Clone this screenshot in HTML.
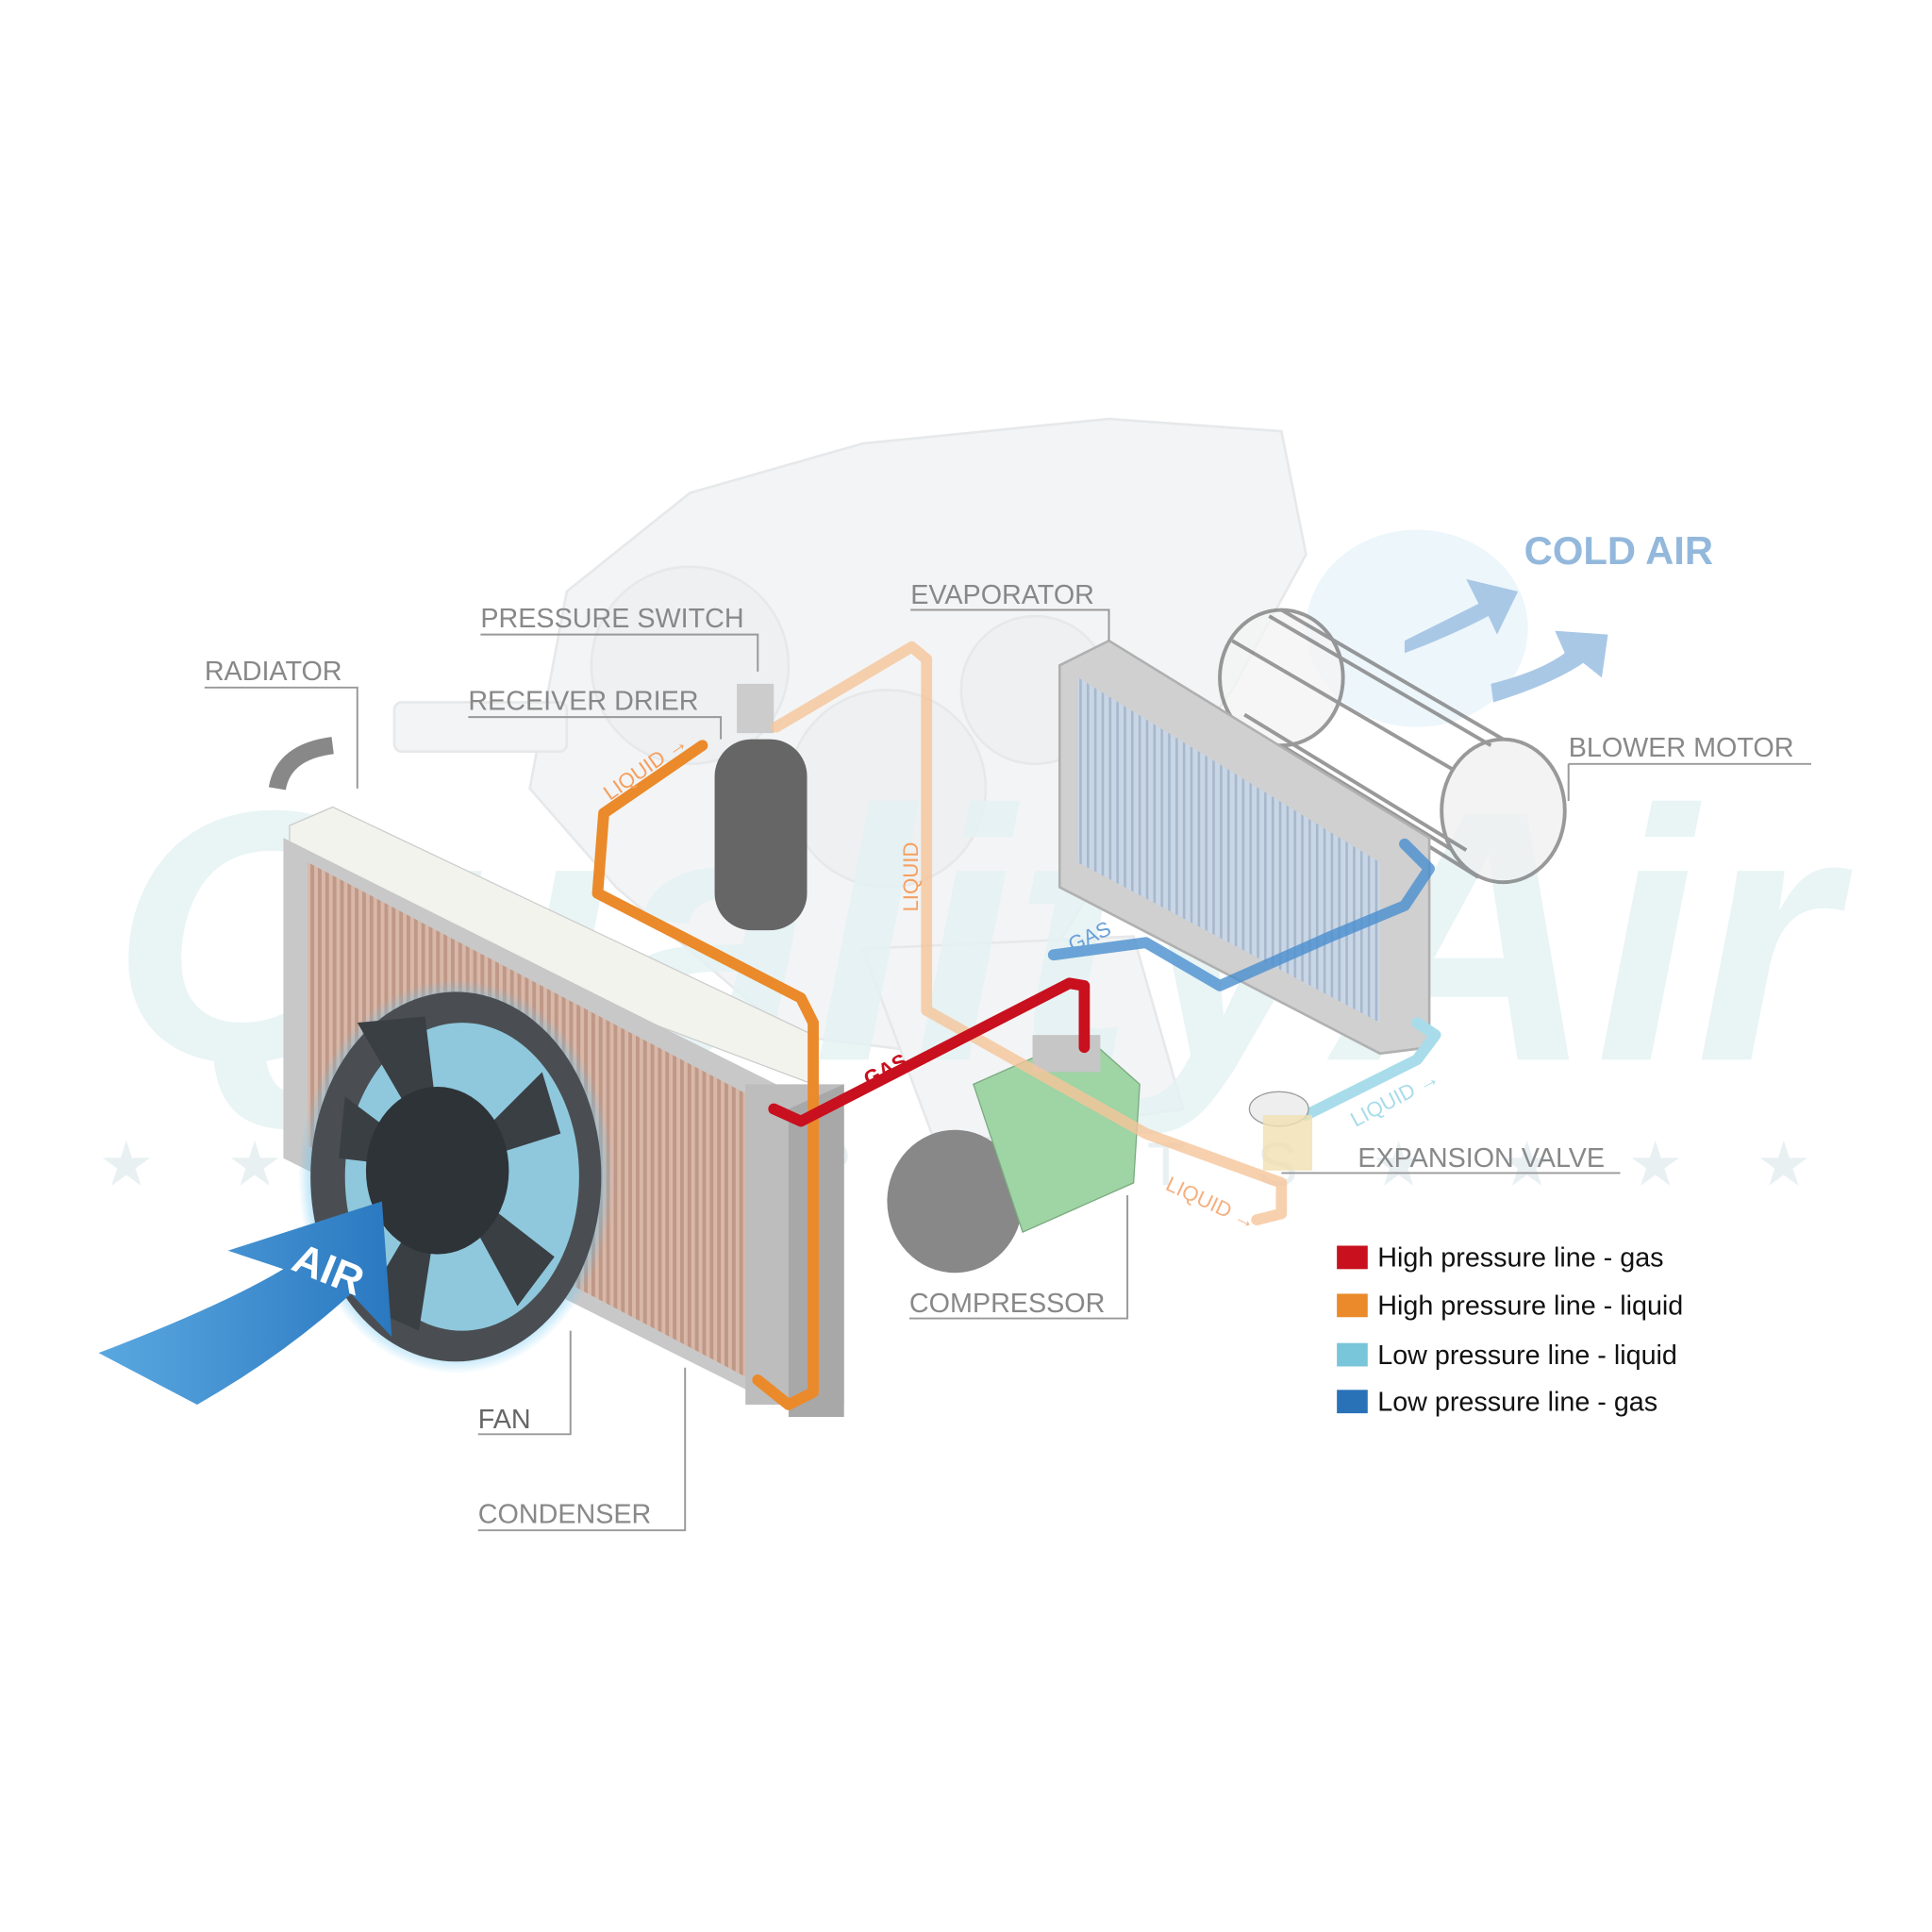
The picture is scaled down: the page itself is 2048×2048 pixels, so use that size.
<!DOCTYPE html>
<html><head><meta charset="utf-8"><style>
html,body{margin:0;padding:0;background:#fff;width:2048px;height:2048px;overflow:hidden}
svg{display:block}
text{font-family:"Liberation Sans",sans-serif}
</style></head><body>
<svg width="2048" height="2048" viewBox="0 0 1568 1568" xmlns="http://www.w3.org/2000/svg">
<defs>
<radialGradient id="glow" cx="0.5" cy="0.5" r="0.5"><stop offset="0.82" stop-color="#6cc6f0"/><stop offset="1" stop-color="#6cc6f0" stop-opacity="0"/></radialGradient>
<linearGradient id="air" x1="0" x2="1"><stop offset="0" stop-color="#5aa8e0"/><stop offset="1" stop-color="#2a78c0"/></linearGradient>
<pattern id="fins" width="6" height="6" patternUnits="userSpaceOnUse"><rect width="6" height="6" fill="#d8b8a8"/><rect width="3" height="6" fill="#c09888"/></pattern>
<pattern id="evf" width="6" height="6" patternUnits="userSpaceOnUse"><rect width="6" height="6" fill="#c8d6e6"/><rect width="2" height="6" fill="#a8b8cc"/></pattern>
</defs>
<!-- engine faint -->
<g fill="#f3f4f5" stroke="#e6e8ea" stroke-width="2">
<path d="M460 480 L560 400 L700 360 L900 340 L1040 350 L1060 450 L1000 560 L900 700 L800 860 L640 840 L500 720 L430 640 Z"/>
<circle cx="560" cy="540" r="80" fill="#eef0f1"/>
<circle cx="720" cy="640" r="80" fill="#eef0f1"/>
<circle cx="840" cy="560" r="60" fill="#eef0f1"/>
<rect x="320" y="570" width="140" height="40" rx="6"/>
<path d="M700 770 L920 760 L960 900 L760 930 Z"/>
</g>
<!-- watermark -->
<text x="90" y="860" font-size="290" font-weight="bold" font-style="italic" fill="#e4f2f3" opacity="0.8" textLength="1400" lengthAdjust="spacingAndGlyphs">QualityAir</text>
<text x="80" y="962" font-size="50" fill="#e8f0f2" textLength="1390" lengthAdjust="spacing">★ ★   A U T O   P A R T S   ★ ★ ★ ★</text>
<!-- cold air -->
<ellipse cx="1150" cy="510" rx="90" ry="80" fill="#e4f2fa" opacity="0.7"/>
<path d="M1140 520 Q1180 500 1200 490 L1190 470 L1232 480 L1215 515 L1208 500 Q1180 515 1140 530Z" fill="#a9c8e6"/>
<path d="M1210 555 Q1250 545 1270 530 L1262 512 L1305 515 L1300 550 L1285 538 Q1260 555 1212 570Z" fill="#a9c8e6"/>
<text x="1237" y="458" font-size="32" font-weight="bold" fill="#93b8dc">COLD AIR</text>
<!-- blower -->
<g stroke="#777" stroke-width="3" fill="none" opacity="0.75">
<ellipse cx="1040" cy="550" rx="50" ry="55" fill="#f4f4f4"/>
<path d="M1040 495 L1220 600 M1040 605 L1220 715"/>
<ellipse cx="1220" cy="658" rx="50" ry="58" fill="#f0f0f0"/>
<path d="M1000 520 L1180 625 M1010 580 L1190 690 M1030 500 L1210 605 M1020 600 L1200 712"/>
</g>
<!-- evaporator -->
<path d="M860 540 L900 520 L1160 680 L1160 850 L1120 855 L860 720 Z" fill="#d0d0d0" stroke="#b0b0b0" stroke-width="2"/>
<path d="M875 550 L1120 700 L1120 830 L875 700 Z" fill="url(#evf)"/>
<!-- radiator/condenser -->
<path d="M235 670 L270 655 L660 840 L660 880 L235 720Z" fill="#f3f3ee" stroke="#ccc"/>
<path d="M230 680 L630 880 L630 1140 L230 940 Z" fill="#c8c8c8"/>
<path d="M250 700 L610 890 L610 1120 L250 930Z" fill="url(#fins)"/>
<rect x="605" y="880" width="80" height="260" fill="#bdbdbd"/>
<path d="M640 900 L685 880 L685 1150 L640 1150Z" fill="#a8a8a8"/>
<path d="M225 640 Q230 610 270 605" stroke="#888" stroke-width="14" fill="none"/>
<!-- fan -->
<ellipse cx="370" cy="955" rx="128" ry="160" fill="url(#glow)"/>
<ellipse cx="370" cy="955" rx="118" ry="150" fill="#4a4e52"/>
<ellipse cx="375" cy="955" rx="95" ry="125" fill="#8fc8dc"/>
<g fill="#3a3f44"><path d="M360 950 L290 830 L345 825Z"/><path d="M360 950 L440 870 L455 920Z"/><path d="M360 950 L450 1020 L420 1060Z"/><path d="M360 950 L340 1080 L295 1060Z"/><path d="M360 950 L275 940 L280 890Z"/></g>
<ellipse cx="355" cy="950" rx="58" ry="68" fill="#2e3338"/>
<!-- AIR arrow -->
<path d="M80 1098 Q180 1060 230 1030 L185 1015 L310 975 L318 1085 L285 1050 Q230 1100 160 1140 Z" fill="url(#air)"/>
<text x="235" y="1030" font-size="34" font-weight="bold" fill="#fff" transform="rotate(22 235 1030)">AIR</text>
<!-- drier -->
<rect x="580" y="600" width="75" height="155" rx="30" fill="#666"/>
<rect x="598" y="555" width="30" height="40" fill="#ccc"/>
<!-- compressor -->
<ellipse cx="775" cy="975" rx="55" ry="58" fill="#888"/>
<path d="M790 880 L880 840 L925 880 L920 960 L830 1000 Z" fill="#9fd4a5" stroke="#7aaa80"/>
<rect x="838" y="840" width="55" height="30" fill="#c6c6c6"/>
<!-- pipes -->
<g fill="none" stroke-linejoin="round" stroke-linecap="round">
<path d="M570 605 L490 660 L485 725 L650 810 L660 830 L660 1130 L640 1140 L615 1120" stroke="#ea8a2a" stroke-width="9"/>
<path d="M630 590 L740 525 L752 535 L752 820 L930 920 L1040 960 L1040 985 L1020 990" stroke="#f5c49a" stroke-width="9" opacity="0.8"/>
<path d="M880 850 L880 800 L868 798 L650 910 L628 900" stroke="#c8101e" stroke-width="9"/>
<path d="M855 775 L930 765 L990 800 L1080 760 L1140 735 L1160 705 L1140 685" stroke="#4a8fd0" stroke-width="9" opacity="0.8"/>
<path d="M1060 905 L1150 860 L1165 840 L1150 830" stroke="#a8dcea" stroke-width="9"/>
</g>
<ellipse cx="1038" cy="900" rx="24" ry="14" fill="#eee" stroke="#999"/>
<rect x="1025" y="905" width="40" height="45" fill="#f0e0b0" opacity="0.8"/>
<!-- pipe labels -->
<text x="495" y="650" font-size="17" fill="#f5a060" transform="rotate(-35 495 650)">LIQUID →</text>
<text x="745" y="740" font-size="17" fill="#f5a060" transform="rotate(-90 745 740)">LIQUID</text>
<text x="690" y="890" font-size="17" font-weight="bold" fill="#c8101e" transform="rotate(-28 690 890)">←GAS</text>
<text x="855" y="780" font-size="17" fill="#6aa0d8" transform="rotate(-25 855 780)">←GAS</text>
<text x="1100" y="915" font-size="17" fill="#a8dcea" transform="rotate(-28 1100 915)">LIQUID →</text>
<text x="945" y="965" font-size="17" fill="#f5b080" transform="rotate(25 945 965)">LIQUID →</text>
<!-- labels -->
<g font-size="22" fill="#888" stroke="none">
<text x="166" y="552">RADIATOR</text>
<text x="390" y="509">PRESSURE SWITCH</text>
<text x="380" y="576">RECEIVER DRIER</text>
<text x="739" y="490">EVAPORATOR</text>
<text x="1273" y="614">BLOWER MOTOR</text>
<text x="1102" y="947">EXPANSION VALVE</text>
<text x="738" y="1065">COMPRESSOR</text>
<text x="388" y="1159" fill="#666">FAN</text>
<text x="388" y="1236">CONDENSER</text>
</g>
<g stroke="#999" stroke-width="1.5" fill="none">
<path d="M166 558 L290 558 L290 640"/>
<path d="M390 515 L615 515 L615 545"/>
<path d="M380 582 L585 582 L585 600"/>
<path d="M739 495 L900 495 L900 520"/>
<path d="M1273 620 L1470 620 M1273 620 L1273 650"/>
<path d="M1040 952 L1315 952"/>
<path d="M738 1070 L915 1070 L915 970"/>
<path d="M388 1164 L463 1164 L463 1080"/>
<path d="M388 1242 L556 1242 L556 1110"/>
</g>
<!-- legend -->
<rect x="1085" y="1011" width="25" height="19" fill="#c8101e"/>
<rect x="1085" y="1050" width="25" height="19" fill="#ea8a2a"/>
<rect x="1085" y="1090" width="25" height="19" fill="#79c5da"/>
<rect x="1085" y="1128" width="25" height="19" fill="#2a72b8"/>
<g font-size="22" fill="#111">
<text x="1118" y="1028">High pressure line - gas</text>
<text x="1118" y="1067">High pressure line - liquid</text>
<text x="1118" y="1107">Low pressure line - liquid</text>
<text x="1118" y="1145">Low pressure line -  gas</text>
</g>
</svg>
</body></html>
